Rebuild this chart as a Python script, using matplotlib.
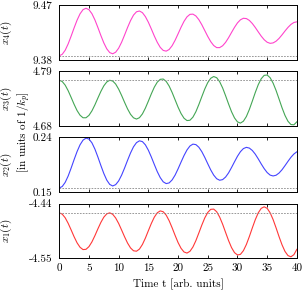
import matplotlib
matplotlib.use("Agg")
import matplotlib.pyplot as plt
import numpy as np

plt.rcParams['font.family'] = 'serif'
plt.rcParams['font.serif'] = ['cmr10']
plt.rcParams['mathtext.fontset'] = 'cm'
plt.rcParams['axes.unicode_minus'] = False
plt.rcParams['font.size'] = 8

# time axis, 0.5 step
t = np.arange(0, 40.5, 0.5)

# values
x4 = [9.3868, 9.3892, 9.3959, 9.4063, 9.4190, 9.4325, 9.4452, 9.4556, 9.4624, 9.4647,
      9.4624, 9.4558, 9.4457, 9.4333, 9.4202, 9.4080, 9.3982, 9.3920, 9.3901, 9.3927,
      9.3993, 9.4091, 9.4209, 9.4332, 9.4445, 9.4535, 9.4589, 9.4602, 9.4575, 9.4510,
      9.4418, 9.4308, 9.4193, 9.4089, 9.4006, 9.3956, 9.3944, 9.3971, 9.4033, 9.4122,
      9.4227, 9.4335, 9.4432, 9.4506, 9.4547, 9.4551, 9.4521, 9.4460, 9.4377, 9.4281,
      9.4185, 9.4100, 9.4036, 9.4002, 9.4002, 9.4032, 9.4088, 9.4164, 9.4250, 9.4334,
      9.4407, 9.4458, 9.4483, 9.4478, 9.4448, 9.4397, 9.4332, 9.4260, 9.4190, 9.4131,
      9.4090, 9.4072, 9.4079, 9.4107, 9.4153, 9.4211, 9.4274, 9.4333, 9.4382, 9.4414,
      9.4425]
x3 = [4.7719, 4.7693, 4.7620, 4.7509, 4.7375, 4.7236, 4.7111, 4.7018, 4.6967, 4.6967,
      4.7015, 4.7105, 4.7225, 4.7361, 4.7493, 4.7606, 4.7684, 4.7718, 4.7703, 4.7642,
      4.7540, 4.7413, 4.7275, 4.7144, 4.7036, 4.6966, 4.6941, 4.6968, 4.7044, 4.7160,
      4.7300, 4.7446, 4.7579, 4.7680, 4.7737, 4.7743, 4.7696, 4.7602, 4.7474, 4.7327,
      4.7180, 4.7052, 4.6958, 4.6911, 4.6917, 4.6979, 4.7088, 4.7232, 4.7390, 4.7544,
      4.7672, 4.7758, 4.7793, 4.7769, 4.7690, 4.7565, 4.7409, 4.7244, 4.7088, 4.6964,
      4.6884, 4.6860, 4.6898, 4.6992, 4.7133, 4.7300, 4.7473, 4.7630, 4.7749, 4.7817,
      4.7823, 4.7769, 4.7661, 4.7513, 4.7342, 4.7168, 4.7014, 4.6897, 4.6831, 4.6826,
      4.6886]
x2 = [0.1570, 0.1594, 0.1662, 0.1766, 0.1896, 0.2035, 0.2167, 0.2278, 0.2354, 0.2387,
      0.2372, 0.2310, 0.2208, 0.2079, 0.1940, 0.1808, 0.1699, 0.1628, 0.1603, 0.1625,
      0.1686, 0.1781, 0.1898, 0.2024, 0.2144, 0.2245, 0.2313, 0.2343, 0.2330, 0.2277,
      0.2189, 0.2078, 0.1956, 0.1838, 0.1740, 0.1671, 0.1642, 0.1653, 0.1702, 0.1781,
      0.1883, 0.1994, 0.2101, 0.2193, 0.2258, 0.2289, 0.2281, 0.2238, 0.2165, 0.2071,
      0.1967, 0.1866, 0.1781, 0.1722, 0.1697, 0.1707, 0.1749, 0.1817, 0.1905, 0.1999,
      0.2090, 0.2165, 0.2216, 0.2236, 0.2224, 0.2185, 0.2124, 0.2047, 0.1964, 0.1887,
      0.1823, 0.1781, 0.1767, 0.1779, 0.1815, 0.1869, 0.1936, 0.2006, 0.2073, 0.2127,
      0.2163]
x1 = [-4.4587, -4.4613, -4.4686, -4.4797, -4.4929, -4.5066, -4.5188, -4.5277, -4.5323, -4.5318,
      -4.5264, -4.5169, -4.5045, -4.4909, -4.4780, -4.4674, -4.4607, -4.4587, -4.4616, -4.4691,
      -4.4800, -4.4932, -4.5068, -4.5193, -4.5290, -4.5347, -4.5356, -4.5313, -4.5221, -4.5093,
      -4.4945, -4.4800, -4.4674, -4.4586, -4.4548, -4.4565, -4.4633, -4.4745, -4.4886, -4.5038,
      -4.5182, -4.5297, -4.5371, -4.5393, -4.5358, -4.5272, -4.5144, -4.4990, -4.4832, -4.4688,
      -4.4579, -4.4517, -4.4512, -4.4565, -4.4671, -4.4814, -4.4979, -4.5142, -4.5283, -4.5384,
      -4.5431, -4.5419, -4.5345, -4.5221, -4.5062, -4.4889, -4.4724, -4.4587, -4.4497, -4.4466,
      -4.4497, -4.4586, -4.4722, -4.4888, -4.5064, -4.5227, -4.5360, -4.5443, -4.5468, -4.5425,
      -4.5318]

# initial values (dashed reference lines)
x_init = [9.3868, 4.7719, 0.1570, -4.4587]

series = [x4, x3, x2, x1]
labels = [r'$x_4(t)$', r'$x_3(t)$', r'$x_2(t)$', r'$x_1(t)$']
colors = ['#ff44cc', '#44a655', '#4444ff', '#ff3838']
ylims = [(9.38, 9.47), (4.68, 4.79), (0.15, 0.24), (-4.55, -4.44)]
yticklabels = [['9.38', '9.47'], ['4.68', '4.79'], ['0.15', '0.24'], ['-4.55', '-4.44']]

fig, axes = plt.subplots(4, 1, figsize=(3.07, 2.96), dpi=100, sharex=True)
fig.subplots_adjust(left=0.193, right=0.967, top=0.983, bottom=0.127, hspace=0.205)

for ax, y, lab, c, yl, ytl, y0 in zip(axes, series, labels, colors, ylims, yticklabels, x_init):
    ax.plot(t, y, color=c, lw=0.8)
    ax.axhline(y0, color='#888888', lw=0.6, ls=(0, (2.0, 1.5)))
    ax.set_xlim(0, 40)
    ax.set_ylim(*yl)
    ax.set_yticks(yl)
    ax.set_yticklabels(ytl)
    ax.set_xticks(np.arange(0, 41, 5))
    ax.tick_params(axis='x', direction='in', top=True, length=2.2, width=0.6)
    ax.tick_params(axis='y', length=0, pad=5)
    ax.set_ylabel(lab)
    ax.yaxis.set_label_coords(-0.19, 0.5)
    for s in ax.spines.values():
        s.set_linewidth(0.7)

axes[-1].set_xlabel('Time t [arb. units]', labelpad=4)
fig.text(24 / 307, 1 - 132 / 296, r'[in units of $1/k_p$]', rotation=90,
         ha='center', va='center')

fig.savefig('out.png', dpi=100)
